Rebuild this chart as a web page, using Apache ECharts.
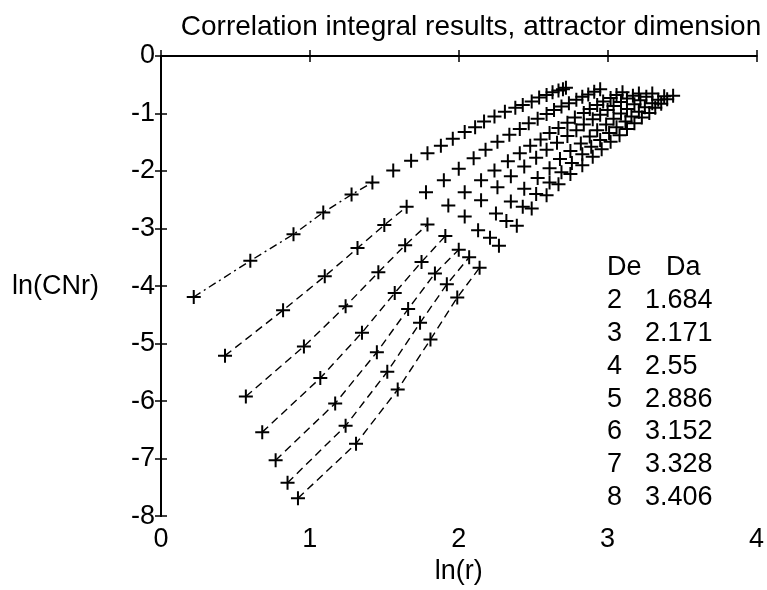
<!DOCTYPE html>
<html>
<head>
<meta charset="utf-8" />
<title>Correlation integral</title>
<script src="https://cdn.jsdelivr.net/npm/echarts@6/dist/echarts.min.js"></script>
</head>
<body style="margin:0;background:#fff">
<div id="main" style="width:767px;height:590px;"></div>
<script>
// embedding dimension De and estimated attractor dimension Da
var De = [2, 3, 4, 5, 6, 7, 8];
var Da = ['1.684', '2.171', '2.55', '2.886', '3.152', '3.328', '3.406'];

// ln(r) / ln(CNr) points
var x2 = [0.22, 0.60, 0.89, 1.09, 1.28, 1.42, 1.56, 1.68, 1.79, 1.88, 1.96, 2.04, 2.11, 2.17, 2.24, 2.31, 2.38, 2.43, 2.49, 2.54, 2.59, 2.63, 2.67, 2.70, 2.72];
var y2 = [-4.19, -3.56, -3.10, -2.72, -2.41, -2.20, -1.99, -1.82, -1.69, -1.56, -1.44, -1.32, -1.24, -1.14, -1.05, -0.97, -0.90, -0.85, -0.79, -0.72, -0.68, -0.63, -0.60, -0.58, -0.55];
var x3 = [0.43, 0.82, 1.10, 1.32, 1.50, 1.65, 1.78, 1.90, 2.00, 2.10, 2.18, 2.26, 2.34, 2.41, 2.47, 2.53, 2.59, 2.64, 2.69, 2.74, 2.79, 2.83, 2.87, 2.91, 2.95];
var y3 = [-5.21, -4.42, -3.83, -3.34, -2.94, -2.62, -2.37, -2.16, -1.96, -1.78, -1.63, -1.49, -1.37, -1.27, -1.17, -1.09, -1.01, -0.94, -0.88, -0.82, -0.76, -0.71, -0.67, -0.62, -0.58];
var x4 = [0.57, 0.96, 1.24, 1.46, 1.64, 1.79, 1.93, 2.04, 2.15, 2.24, 2.33, 2.41, 2.48, 2.55, 2.61, 2.67, 2.73, 2.78, 2.84, 2.88, 2.93, 2.97, 3.02, 3.06, 3.10];
var y4 = [-5.92, -5.05, -4.35, -3.76, -3.29, -2.93, -2.60, -2.37, -2.16, -1.99, -1.83, -1.69, -1.56, -1.45, -1.34, -1.25, -1.16, -1.07, -0.99, -0.92, -0.85, -0.79, -0.73, -0.68, -0.63];
var x5 = [0.68, 1.07, 1.35, 1.57, 1.75, 1.91, 2.04, 2.15, 2.26, 2.35, 2.44, 2.52, 2.59, 2.66, 2.73, 2.79, 2.84, 2.90, 2.95, 3.00, 3.04, 3.09, 3.13, 3.17, 3.21];
var y5 = [-6.54, -5.60, -4.81, -4.12, -3.58, -3.13, -2.79, -2.51, -2.28, -2.09, -1.92, -1.77, -1.63, -1.51, -1.39, -1.29, -1.19, -1.10, -1.02, -0.94, -0.87, -0.80, -0.74, -0.69, -0.65];
var x6 = [0.77, 1.17, 1.45, 1.66, 1.84, 2.00, 2.13, 2.25, 2.35, 2.44, 2.53, 2.61, 2.68, 2.75, 2.82, 2.88, 2.93, 2.99, 3.04, 3.09, 3.13, 3.18, 3.22, 3.26, 3.30];
var y6 = [-7.03, -6.04, -5.15, -4.40, -3.78, -3.37, -3.03, -2.74, -2.53, -2.31, -2.12, -1.95, -1.79, -1.65, -1.52, -1.40, -1.29, -1.19, -1.09, -1.00, -0.92, -0.84, -0.77, -0.71, -0.65];
var x7 = [0.85, 1.24, 1.52, 1.74, 1.92, 2.07, 2.21, 2.32, 2.43, 2.52, 2.61, 2.69, 2.76, 2.83, 2.89, 2.95, 3.01, 3.06, 3.12, 3.16, 3.21, 3.25, 3.30, 3.34, 3.38];
var y7 = [-7.42, -6.43, -5.49, -4.64, -3.97, -3.50, -3.16, -2.87, -2.62, -2.40, -2.20, -2.02, -1.86, -1.71, -1.58, -1.46, -1.34, -1.24, -1.14, -1.05, -0.97, -0.89, -0.82, -0.76, -0.70];
var x8 = [0.92, 1.31, 1.59, 1.81, 1.99, 2.14, 2.27, 2.39, 2.49, 2.59, 2.67, 2.75, 2.83, 2.90, 2.96, 3.02, 3.08, 3.13, 3.18, 3.23, 3.28, 3.32, 3.36, 3.40, 3.44];
var y8 = [-7.69, -6.74, -5.80, -4.93, -4.20, -3.68, -3.30, -2.95, -2.65, -2.42, -2.23, -2.05, -1.90, -1.75, -1.62, -1.49, -1.38, -1.27, -1.17, -1.07, -0.99, -0.90, -0.83, -0.75, -0.69];

var xs = [x2, x3, x4, x5, x6, x7, x8];
var ys = [y2, y3, y4, y5, y6, y7, y8];
var nLine = 6; // first points of each De joined by the dashed line

var font = 'Liberation Sans, Arial, Helvetica, sans-serif';
var plus = 'path://M6,0H8V6H14V8H8V14H6V8H0V6H6Z';

var myChart = echarts.init(document.getElementById('main'));

var series = [];
De.forEach(function (d, i) {
  var pts = xs[i].map(function (x, j) { return [x, ys[i][j]]; });
  series.push({
    type: 'line',
    data: pts.slice(0, nLine),
    symbol: 'none',
    silent: true,
    lineStyle: { color: '#000', width: 1.4, type: i === 0 ? [8, 4, 2, 4] : [8, 5] },
    z: 2
  });
  series.push({
    type: 'scatter',
    data: pts,
    symbol: plus,
    symbolSize: 14,
    itemStyle: { color: '#000', opacity: 1 },
    z: 3
  });
});

// De / Da text block
function txt(x, y, s) {
  return { type: 'text', x: x, y: y, style: { text: s, font: '27px ' + font, fill: '#000', verticalAlign: 'middle' } };
}
var graphics = [txt(607, 268, 'De'), txt(666, 268, 'Da')];
De.forEach(function (d, i) {
  graphics.push(txt(607, 301 + i * 32.7, String(d)));
  graphics.push(txt(645, 301 + i * 32.7, Da[i]));
});

var axisLine = { lineStyle: { color: '#000', width: 2 } };
var axisTick = { inside: true, length: 6, lineStyle: { color: '#000', width: 1.5 } };
var label = { color: '#000', fontSize: 27, fontFamily: font };

var option = {
  animation: false,
  backgroundColor: '#fff',
  title: {
    text: 'Correlation integral results, attractor dimension',
    left: 466,
    top: 8,
    textAlign: 'center',
    textStyle: { color: '#000', fontSize: 28, fontWeight: 'normal', fontFamily: font }
  },
  grid: { left: 161, right: 10, top: 56, bottom: 69 },
  xAxis: [
    {
      type: 'value', min: 0, max: 4, interval: 1,
      axisLine: axisLine, axisTick: axisTick, splitLine: { show: false },
      axisLabel: Object.assign({ margin: 10 }, label),
      name: 'ln(r)', nameLocation: 'middle', nameGap: 39,
      nameTextStyle: label
    },
    {
      type: 'value', position: 'top', min: 0, max: 4, interval: 1,
      axisLine: axisLine, axisTick: axisTick, splitLine: { show: false },
      axisLabel: { show: false }
    }
  ],
  yAxis: [
    {
      type: 'value', min: -8, max: 0, interval: 1,
      axisLine: axisLine, axisTick: axisTick, splitLine: { show: false },
      axisLabel: Object.assign({ margin: 6 }, label),
      name: 'ln(CNr)', nameLocation: 'middle', nameRotate: 0, nameGap: 62,
      nameTextStyle: label
    },
    {
      type: 'value', position: 'right', min: -8, max: 0, interval: 1,
      axisLine: axisLine, axisTick: axisTick, splitLine: { show: false },
      axisLabel: { show: false }
    }
  ],
  graphic: graphics,
  series: series
};

myChart.setOption(option);
</script>
</body>
</html>
